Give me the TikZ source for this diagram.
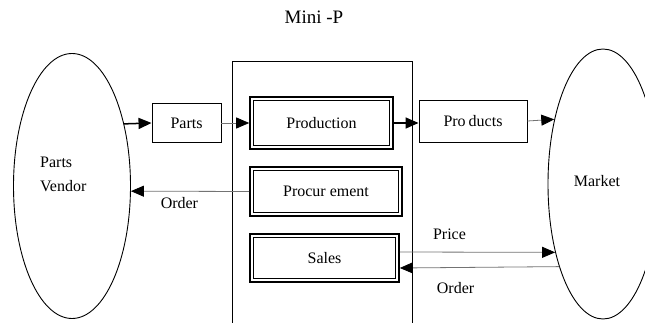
\documentclass[tikz,border=0pt]{standalone}
\usepackage{fontspec}
\setmainfont{Liberation Serif}
\usetikzlibrary{shapes.geometric,arrows.meta}
\begin{document}
\begin{tikzpicture}[
  every node/.style={font=\fontsize{16}{18}\selectfont},
  box/.style={draw, line width=0.9pt, inner sep=0pt},
  dbox/.style={draw, line width=1.6pt, inner sep=0pt},
  oval/.style={draw, ellipse, line width=0.9pt, inner sep=0pt},
  headtip/.style={arrows={-Triangle[length=13pt,width=11pt,black]}},
  heavy/.style={headtip, line width=1.5pt},
  light/.style={headtip, line width=0.8pt, draw=black!55},
  lbl/.style={inner sep=0pt}
]
% work in page pixels, y pointing down
\begin{scope}[x=1pt,y=-1pt]
\useasboundingbox (0,0) rectangle (645,323);
\clip (0,0) rectangle (645,323);

% title
\node[lbl, font=\fontsize{19}{22}\selectfont] (title) at (314,17) {Mini -P};

% outer actors
\node[oval, minimum width=117pt, minimum height=265pt] (vendor) at (72,186) {};
\node[lbl, align=left, anchor=west, font=\fontsize{16}{24}\selectfont] (vendortxt) at (40,174) {Parts\\Vendor};
\node[oval, minimum width=110pt, minimum height=270pt] (market) at (603,184) {};
\node[lbl] (markettxt) at (597,181) {Market};

% the Mini-P boundary (open at the bottom)
\draw[line width=0.9pt] (232,323) -- (232,61) -- (412,61) -- (412,323);

% flows and functions
\node[box, minimum width=69pt, minimum height=39pt] (parts) at (186.5,123) {Parts\hspace{10pt}};
\node[dbox, minimum width=143pt, minimum height=52pt] (prod) at (321.5,123) {Production\hspace{11pt}};
\node[box, minimum width=108pt, minimum height=42pt] (products) at (473,121) {Pro\hspace{3pt}ducts\hspace{20pt}};
\node[dbox, minimum width=152pt, minimum height=49pt] (proc) at (326,191.5) {Procur ement\hspace{28pt}};
\node[dbox, minimum width=149pt, minimum height=48pt] (sales) at (324.5,258) {Sales\hspace{21pt}};

% inner lines of the double frames
\foreach \n in {prod,proc,sales}
  \draw[line width=0.7pt] ([shift={(4,4)}]\n.north west) rectangle ([shift={(-4,-4)}]\n.south east);

% connectors
\draw[heavy] (vendor.50.75) -- (parts.west);
\draw[light] (parts.east) -- (prod.west);
\draw[heavy] (prod.east) -- (prod.east -| products.west);
\draw[light] (products.east) -- (market.127.67);
\draw[light] (proc.west) -- (vendor.-5.38)
  node[lbl, pos=0.59, yshift=-12pt] (order1) {Order};
\draw[light] ([yshift=6pt]sales.east) -- (market.235.06)
  node[lbl, pos=0.32, yshift=18pt] (price) {Price};
\draw[light] (market.242.86) -- ([yshift=-10pt]sales.east)
  node[lbl, pos=0.65, yshift=-21pt] (order2) {Order};
\end{scope}
\end{tikzpicture}
\end{document}
